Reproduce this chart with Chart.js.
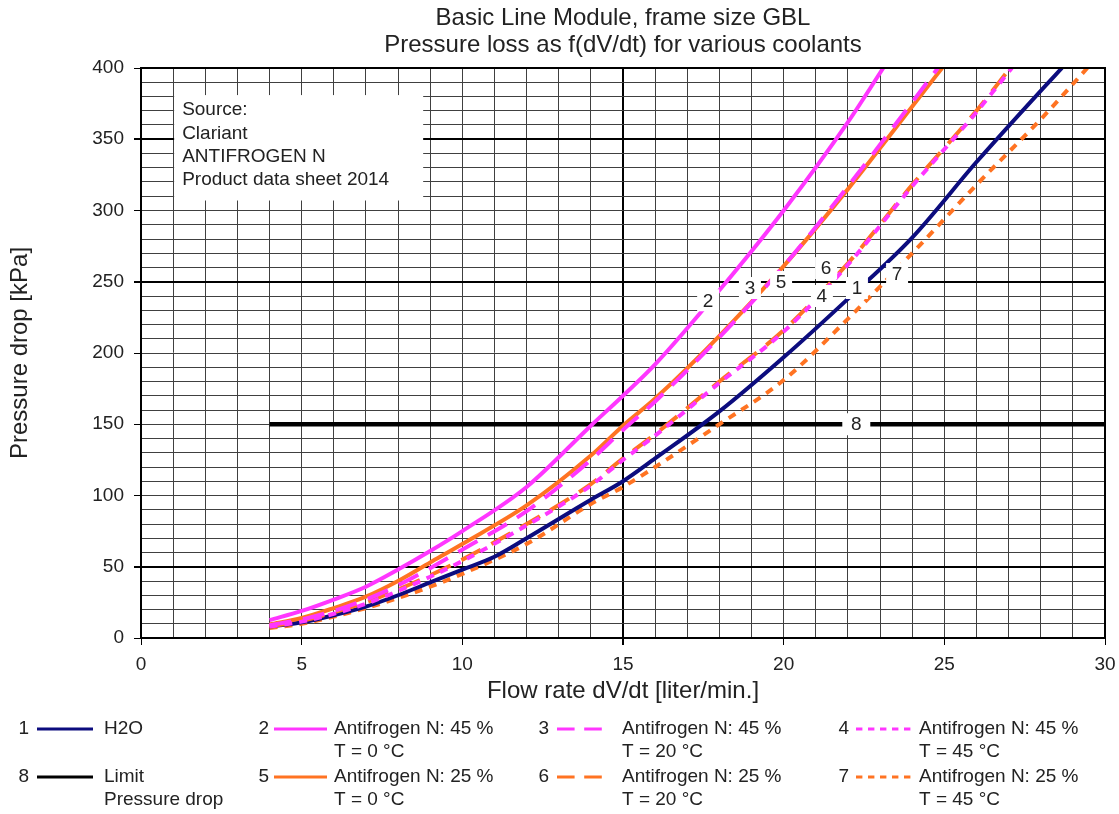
<!DOCTYPE html>
<html><head><meta charset="utf-8">
<script src="https://cdn.jsdelivr.net/npm/chart.js@4.4.1/dist/chart.umd.min.js"></script>
<style>html,body{margin:0;padding:0;background:#fff;}#wrap{width:1119px;height:814px;}</style>
</head><body><div id="wrap"><canvas id="c" width="1119" height="814"></canvas></div>
<script>
// ---- data ----
const titleLines = ['Basic Line Module, frame size GBL', 'Pressure loss as f(dV/dt) for various coolants'];
const xAxisTitle = 'Flow rate dV/dt [liter/min.]';
const yAxisTitle = 'Pressure drop [kPa]';
const sourceLines = ['Source:', 'Clariant', 'ANTIFROGEN N', 'Product data sheet 2014'];

// 1 H2O
const x1 = [4,5,6,7,8,9,10,11,12,14,15,16,18,20,22,24,26,28,28.66];
const y1 = [8,11,16,22,30,39,48,57,70,97,110,126,159,197,238,281,334,384,400];
// 2 Antifrogen N 45 %, 0 °C
const x2 = [4,5,6,7,8,9,10,12,14,15,16,18,20,22,23.1];
const y2 = [12.5,19,27,36,48,61,75,106,149,170,192,244,300,362,400];
// 3 Antifrogen N 45 %, 20 °C
const x3 = [4,5,6,7,8,9,10,12,14,15,16,18,20,22,24,24.8];
const y3 = [9,13,19,27,37,49,62,89,125,146,166,211,261,317,376,400];
// 4 Antifrogen N 45 %, 45 °C
const x4 = [4,5,6,7,8,9,10,12,14,15,16,18,20,22,24,26,27.1];
const y4 = [8,11.5,17,24,33,43,54,79,107,125,142,179,215,262,317,369,400];
// 5 Antifrogen N 25 %, 0 °C
const x5 = [4,5,6,7,8,9,10,12,14,15,16,18,20,22,24,24.93];
const y5 = [9.5,14,21,29,40,53,66,93,128,149,168,212,261,315,373,400];
// 6 Antifrogen N 25 %, 20 °C
const x6 = [4,5,6,7,8,9,10,12,14,15,16,18,20,22,24,26,27.05];
const y6 = [8,12,18,25,34,44,55,80,108,126,143,180,216,263,318,370,400];
// 7 Antifrogen N 25 %, 45 °C
const x7 = [4,5,6,7,8,9,10,12,14,15,16,18,20,22,24,26,28,29.45];
const y7 = [7,10,15,21,28,36,45,66,94,106,120,150,181,224,270,318,364,400];
// 8 Limit pressure drop
const x8 = [4,30];
const y8 = [150,150];

// curve number labels (data coordinates)
const labelText = ['2','3','5','6','4','1','7','8'];
const labelX = [17.65,18.95,19.92,21.32,21.19,22.28,23.53,22.26];
const labelY = [237,245.6,249.8,259.6,240,245.6,255.4,150];

// axis ticks
const xMin = 0, xMax = 30, xStep = 1, xLabelEvery = 5;
const yMin = 0, yMax = 400, yStep = 10, yLabelEvery = 50;
const xMajor = [15];
const yMajor = [50,250,350];

// ---- styles ----
const NAVY = '#0c0c7e', MAG = '#ff36ff', ORA = '#ff7322', BLK = '#000000';
const FONT = "'Liberation Sans', Arial, sans-serif";
const TXT = '#222222';
const GRID = '#404040';

function pts(xs, ys){ return xs.map((x,i)=>({x:x, y:ys[i]})); }

const curves = [
  {n:'3', xs:x3, ys:y3, color:MAG, dash:[22,12], text:['Antifrogen N: 45 %','T = 20 °C'], col:2, row:0},
  {n:'4', xs:x4, ys:y4, color:MAG, dash:[8,7], text:['Antifrogen N: 45 %','T = 45 °C'], col:3, row:0},
  {n:'2', xs:x2, ys:y2, color:MAG, dash:[], text:['Antifrogen N: 45 %','T = 0 °C'], col:1, row:0},
  {n:'5', xs:x5, ys:y5, color:ORA, dash:[], text:['Antifrogen N: 25 %','T = 0 °C'], col:1, row:1},
  {n:'6', xs:x6, ys:y6, color:ORA, dash:[22,12], text:['Antifrogen N: 25 %','T = 20 °C'], col:2, row:1},
  {n:'1', xs:x1, ys:y1, color:NAVY, dash:[], text:['H2O'], col:0, row:0},
  {n:'7', xs:x7, ys:y7, color:ORA, dash:[8,7], text:['Antifrogen N: 25 %','T = 45 °C'], col:3, row:1},
  {n:'8', xs:x8, ys:y8, color:BLK, dash:[], text:['Limit','Pressure drop'], col:0, row:1}
];

const legendCols = [
  {numRight:29, x0:37, x1:93, tx:104},
  {numRight:269, x0:274, x1:327, tx:334},
  {numRight:549, x0:557, x1:608, tx:622},
  {numRight:849, x0:856, x1:914, tx:919}
];
const legendRowY = [729, 777];
const legendLineGap = 23;

Chart.defaults.font.family = FONT;
Chart.defaults.color = TXT;

const decor = {
  id: 'decor',
  beforeDatasetsDraw(chart){
    const c = chart.ctx, xs = chart.scales.x, ys = chart.scales.y;
    c.save();
    // source box
    const bx0 = xs.getPixelForValue(1), bx1 = xs.getPixelForValue(8.75);
    const by0 = ys.getPixelForValue(381), by1 = ys.getPixelForValue(307);
    c.fillStyle = '#fff';
    c.fillRect(bx0+1, by0, bx1-bx0, by1-by0);
    c.fillStyle = TXT;
    c.font = '19px ' + FONT;
    c.textBaseline = 'middle';
    c.textAlign = 'left';
    sourceLines.forEach((t,i)=>c.fillText(t, bx0+9, by0+15+i*23.3));
    c.restore();
  },
  afterDatasetsDraw(chart){
    const c = chart.ctx, xs = chart.scales.x, ys = chart.scales.y, a = chart.chartArea;
    c.save();
    // frame
    c.strokeStyle = '#000'; c.lineWidth = 2;
    c.strokeRect(a.left, a.top, a.right-a.left, a.bottom-a.top);
    // curve labels
    c.font = '19px ' + FONT;
    c.textAlign = 'center'; c.textBaseline = 'middle';
    labelText.forEach((t,i)=>{
      const px = xs.getPixelForValue(labelX[i]), py = ys.getPixelForValue(labelY[i]);
      const w = t === '8' ? 28 : 22, h = 22;
      c.fillStyle = '#fff';
      c.fillRect(px-w/2, py-h/2, w, h);
      c.fillStyle = TXT;
      c.fillText(t, px, py+1);
    });
    c.restore();
  },
  afterDraw(chart){
    const c = chart.ctx;
    c.save();
    // title
    c.fillStyle = TXT;
    c.font = '24px ' + FONT;
    c.textAlign = 'center'; c.textBaseline = 'middle';
    const cx = (chart.chartArea.left + chart.chartArea.right)/2;
    titleLines.forEach((t,i)=>c.fillText(t, cx, 18 + i*27));
    // legend
    c.font = '19px ' + FONT;
    curves.forEach(cv=>{
      const col = legendCols[cv.col], y = legendRowY[cv.row];
      c.fillStyle = TXT;
      c.textAlign = 'right';
      c.fillText(cv.n, col.numRight, y);
      c.strokeStyle = cv.color; c.lineWidth = 3;
      c.setLineDash(cv.dash.map(d=>d*0.8));
      c.beginPath(); c.moveTo(col.x0, y); c.lineTo(col.x1, y); c.stroke();
      c.setLineDash([]);
      c.textAlign = 'left';
      cv.text.forEach((t,i)=>c.fillText(t, col.tx, y + i*legendLineGap));
    });
    c.restore();
  }
};

function isMajor(list, v){ return list.indexOf(v) >= 0; }

new Chart(document.getElementById('c'), {
  type: 'line',
  data: {
    datasets: curves.map(cv=>({
      label: cv.n,
      data: pts(cv.xs, cv.ys),
      borderColor: cv.color,
      backgroundColor: cv.color,
      borderWidth: cv.n === '8' ? 4.5 : 4,
      borderDash: cv.dash,
      pointRadius: 0,
      fill: false,
      cubicInterpolationMode: 'monotone',
      borderCapStyle: 'butt'
    }))
  },
  options: {
    responsive: false,
    animation: false,
    devicePixelRatio: 1,
    layout: { padding: { left: 0, right: 14, top: 68, bottom: 104 } },
    plugins: { legend: { display: false }, tooltip: { enabled: false }, title: { display: false } },
    scales: {
      x: {
        type: 'linear', min: xMin, max: xMax,
        afterFit(s){ s.height = 72; s.paddingRight = 4; s.paddingLeft = 4; },
        ticks: {
          stepSize: xStep, autoSkip: false, maxRotation: 0, padding: 8,
          font: { size: 19 }, color: TXT,
          callback: v => (v % xLabelEvery === 0 ? String(v) : '')
        },
        grid: {
          tickLength: 7,
          color: ctx => isMajor(xMajor, ctx.tick && ctx.tick.value) ? '#000' : GRID,
          lineWidth: ctx => isMajor(xMajor, ctx.tick && ctx.tick.value) ? 2 : 1,
          tickColor: ctx => (ctx.tick && ctx.tick.value % xLabelEvery === 0) ? '#000' : 'rgba(0,0,0,0)'
        },
        border: { display: true, color: '#000', width: 2 },
        title: { display: true, text: xAxisTitle, font: { size: 24 }, color: TXT, padding: { top: 4, bottom: 4 } }
      },
      y: {
        type: 'linear', min: yMin, max: yMax,
        afterFit(s){ s.width = 141; },
        ticks: {
          stepSize: yStep, autoSkip: false, padding: 10,
          font: { size: 19 }, color: TXT,
          callback: v => (v % yLabelEvery === 0 ? String(v) : '')
        },
        grid: {
          tickLength: 7,
          color: ctx => isMajor(yMajor, ctx.tick && ctx.tick.value) ? '#000' : GRID,
          lineWidth: ctx => isMajor(yMajor, ctx.tick && ctx.tick.value) ? 2 : 1,
          tickColor: ctx => (ctx.tick && ctx.tick.value % yLabelEvery === 0) ? '#000' : 'rgba(0,0,0,0)'
        },
        border: { display: true, color: '#000', width: 2 },
        title: { display: true, text: yAxisTitle, font: { size: 24 }, color: TXT, padding: { top: 6, bottom: 4 } }
      }
    }
  },
  plugins: [decor]
});
</script>
</body></html>
